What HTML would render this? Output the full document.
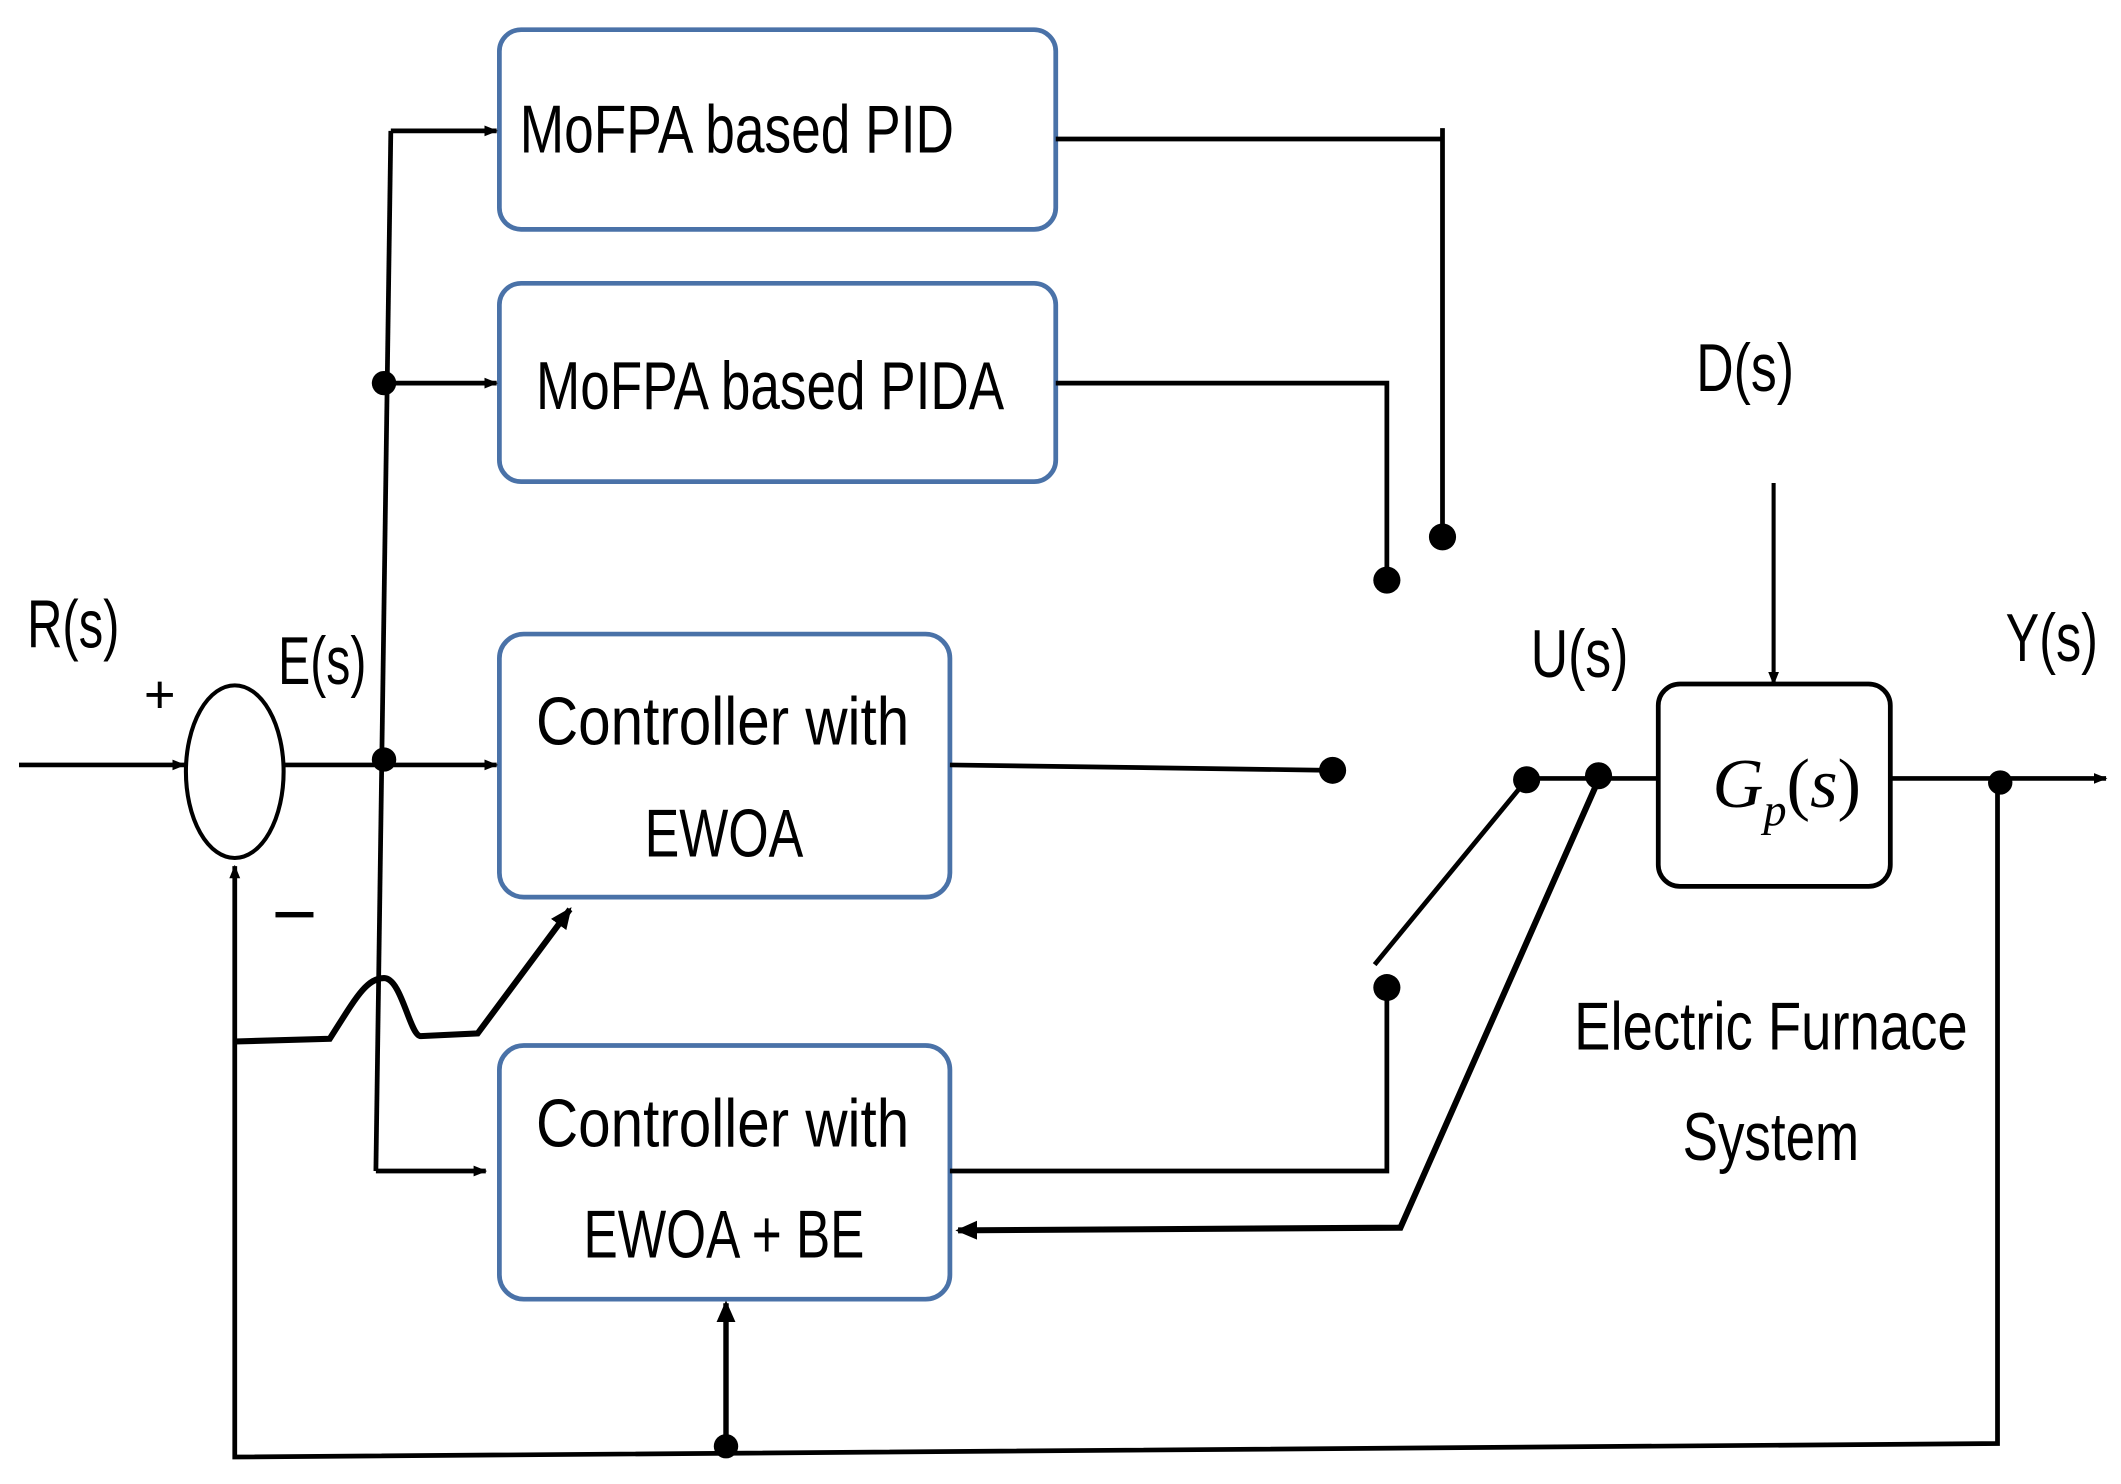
<!DOCTYPE html>
<html><head><meta charset="utf-8"><style>html,body{margin:0;padding:0;background:#fff}svg{display:block}</style></head>
<body>
<svg width="2121" height="1484" viewBox="0 0 1563 1100" preserveAspectRatio="none" xmlns="http://www.w3.org/2000/svg">
<defs>
<marker id="a" markerWidth="10" markerHeight="10" refX="9" refY="5" orient="auto" markerUnits="userSpaceOnUse"><path d="M0,1 L10,5 L0,9 z" fill="#000"/></marker>
<marker id="b" markerWidth="16" markerHeight="16" refX="14" refY="8" orient="auto" markerUnits="userSpaceOnUse"><path d="M0,1 L16,8 L0,15 z" fill="#000"/></marker>
</defs>
<g fill="#fff" stroke="#4a72a8" stroke-width="3.5">
<rect x="368" y="22" width="410" height="148" rx="16"/>
<rect x="368" y="210" width="410" height="147" rx="16"/>
<rect x="368" y="470" width="332" height="195" rx="18"/>
<rect x="368" y="775" width="332" height="188" rx="18"/>
</g>
<rect x="1222" y="507" width="171" height="150" rx="16" fill="#fff" stroke="#000" stroke-width="3.5"/>
<ellipse cx="173" cy="572" rx="36" ry="64" fill="#fff" stroke="#000" stroke-width="3"/>
<g stroke="#000" stroke-width="3.5" fill="none">
<line x1="14" y1="567" x2="136" y2="567" marker-end="url(#a)"/>
<line x1="210" y1="567" x2="366" y2="567" marker-end="url(#a)"/>
<line x1="288" y1="97" x2="277" y2="868"/>
<line x1="288" y1="97" x2="366" y2="97" marker-end="url(#a)"/>
<line x1="283" y1="284" x2="366" y2="284" marker-end="url(#a)"/>
<line x1="277" y1="868" x2="358" y2="868" marker-end="url(#a)"/>
<polyline points="778,103 1063,103"/>
<line x1="1063" y1="95" x2="1063" y2="398"/>
<polyline points="778,284 1022,284 1022,430"/>
<line x1="700" y1="567" x2="982" y2="571"/>
<polyline points="700,868 1022,868 1022,732"/>
<line x1="1013" y1="715" x2="1125" y2="578"/>
<line x1="1125" y1="577" x2="1222" y2="577"/>
<line x1="1393" y1="577" x2="1552" y2="577" marker-end="url(#a)"/>
<polyline points="1472,580 1472,1070 173,1080 173,642" marker-end="url(#a)"/>
<polyline points="1178,578 1032,910 706,912" stroke-width="4.5" marker-end="url(#b)"/>
<line x1="535" y1="1072" x2="535" y2="966" stroke-width="4" marker-end="url(#b)"/>
<line x1="1307" y1="358" x2="1307" y2="507" stroke-width="3" marker-end="url(#a)"/>
<path d="M173,772 L243,770 C262,740 270,725 283,725 C296,725 302,768 310,768 L352,766 L420,674" stroke-width="4.5" marker-end="url(#b)"/>
</g>
<g fill="#000">
<circle cx="283" cy="563" r="9"/><circle cx="283" cy="284" r="9"/>
<circle cx="1063" cy="398" r="10"/><circle cx="1022" cy="430" r="10"/>
<circle cx="982" cy="571" r="10"/><circle cx="1022" cy="732" r="10"/>
<circle cx="1125" cy="578" r="10"/><circle cx="1178" cy="575" r="10"/>
<circle cx="1474" cy="580" r="9"/><circle cx="535" cy="1072" r="9"/>
<rect x="203" y="676" width="28" height="4"/>
</g>
<g font-family="Liberation Sans, sans-serif" font-size="50" fill="#000">
<text x="383" y="113" textLength="320" lengthAdjust="spacingAndGlyphs">MoFPA based PID</text>
<text x="395" y="303" textLength="345" lengthAdjust="spacingAndGlyphs">MoFPA based PIDA</text>
<text x="395" y="552" textLength="275" lengthAdjust="spacingAndGlyphs">Controller with</text>
<text x="475" y="635" textLength="117" lengthAdjust="spacingAndGlyphs">EWOA</text>
<text x="395" y="850" textLength="275" lengthAdjust="spacingAndGlyphs">Controller with</text>
<text x="430" y="932" textLength="207" lengthAdjust="spacingAndGlyphs">EWOA + BE</text>
<text x="20" y="480" textLength="68" lengthAdjust="spacingAndGlyphs">R(s)</text>
<text x="205" y="507" textLength="65" lengthAdjust="spacingAndGlyphs">E(s)</text>
<text x="1128" y="502" textLength="72" lengthAdjust="spacingAndGlyphs">U(s)</text>
<text x="1478" y="490" textLength="68" lengthAdjust="spacingAndGlyphs">Y(s)</text>
<text x="1250" y="290" textLength="72" lengthAdjust="spacingAndGlyphs">D(s)</text>
<text x="1160" y="778" textLength="290" lengthAdjust="spacingAndGlyphs">Electric Furnace</text>
<text x="1240" y="860" textLength="130" lengthAdjust="spacingAndGlyphs">System</text>
<text x="106" y="528" font-size="40">+</text>
</g>
<text x="1262" y="598" font-family="Liberation Serif, serif" font-style="italic" font-size="52" fill="#000">G<tspan font-size="34" dy="14">p</tspan><tspan dy="-14" font-style="normal">(</tspan>s<tspan font-style="normal">)</tspan></text>
</svg>
</body></html>
